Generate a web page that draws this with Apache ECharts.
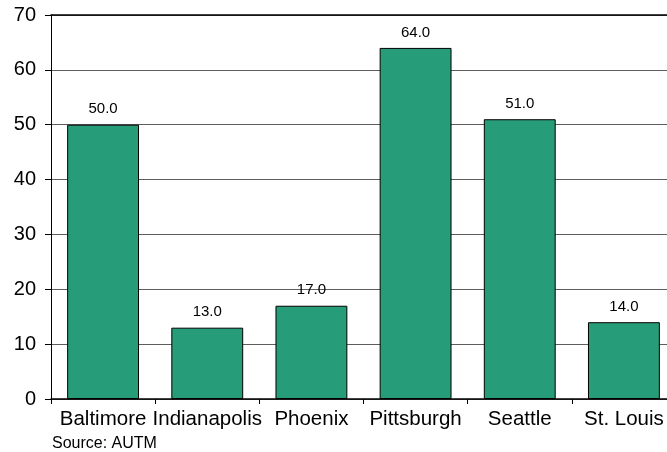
<!DOCTYPE html>
<html>
<head>
<meta charset="utf-8">
<script src="https://cdn.jsdelivr.net/npm/echarts@6/dist/echarts.min.js"></script>
<style>
  html, body { margin: 0; padding: 0; background: #ffffff; overflow: hidden; }
  #chart { width: 667px; height: 452px; }
</style>
</head>
<body>
<div id="chart"></div>
<script>
// Cities and their counts
const cities = ['Baltimore', 'Indianapolis', 'Phoenix', 'Pittsburgh', 'Seattle', 'St. Louis'];
const counts = [50.0, 13.0, 17.0, 64.0, 51.0, 14.0];
const yTicks = { min: 0, max: 70, interval: 10 };

const FONT = 'Liberation Sans, Arial, sans-serif';
const chart = echarts.init(document.getElementById('chart'), null, { renderer: 'canvas' });
chart.setOption({
  animation: false,
  backgroundColor: '#ffffff',
  textStyle: { fontFamily: FONT },
  // the plot runs slightly past the right edge of the canvas
  grid: { left: 51, width: 625, top: 15, height: 384, containLabel: false, outerBoundsMode: 'none' },
  graphic: [{
    type: 'text', left: 52, top: 436,
    style: { text: 'Source: AUTM', fontSize: 16, fill: '#000', fontFamily: FONT }
  }],
  xAxis: [{
    type: 'category',
    data: cities,
    axisLine: { lineStyle: { color: '#000', width: 1.5 } },
    axisTick: { show: true, alignWithLabel: false, length: 5, lineStyle: { color: '#000' } },
    axisLabel: { color: '#000', fontSize: 20.5, margin: 10, interval: 0 },
    splitLine: { show: false }
  }, {
    // top border of the plot
    type: 'category',
    position: 'top',
    data: cities,
    axisLine: { show: true, lineStyle: { color: '#000', width: 1.5 } },
    axisTick: { show: false },
    axisLabel: { show: false },
    splitLine: { show: false }
  }],
  yAxis: {
    type: 'value',
    min: yTicks.min, max: yTicks.max, interval: yTicks.interval,
    axisLine: { show: true, lineStyle: { color: '#000', width: 1 } },
    axisTick: { show: true, length: 6, lineStyle: { color: '#000' } },
    axisLabel: { color: '#000', fontSize: 20, margin: 15 },
    splitLine: { show: true, lineStyle: { color: '#5e5e5e', width: 1.2 } }
  },
  series: [{
    type: 'bar',
    data: counts,
    barCategoryGap: '31%',
    itemStyle: { color: '#279c78', borderColor: '#000', borderWidth: 1 },
    label: {
      show: true, position: 'top', distance: 8,
      color: '#000', fontSize: 15,
      formatter: p => p.value.toFixed(1)
    }
  }]
});
</script>
</body>
</html>
